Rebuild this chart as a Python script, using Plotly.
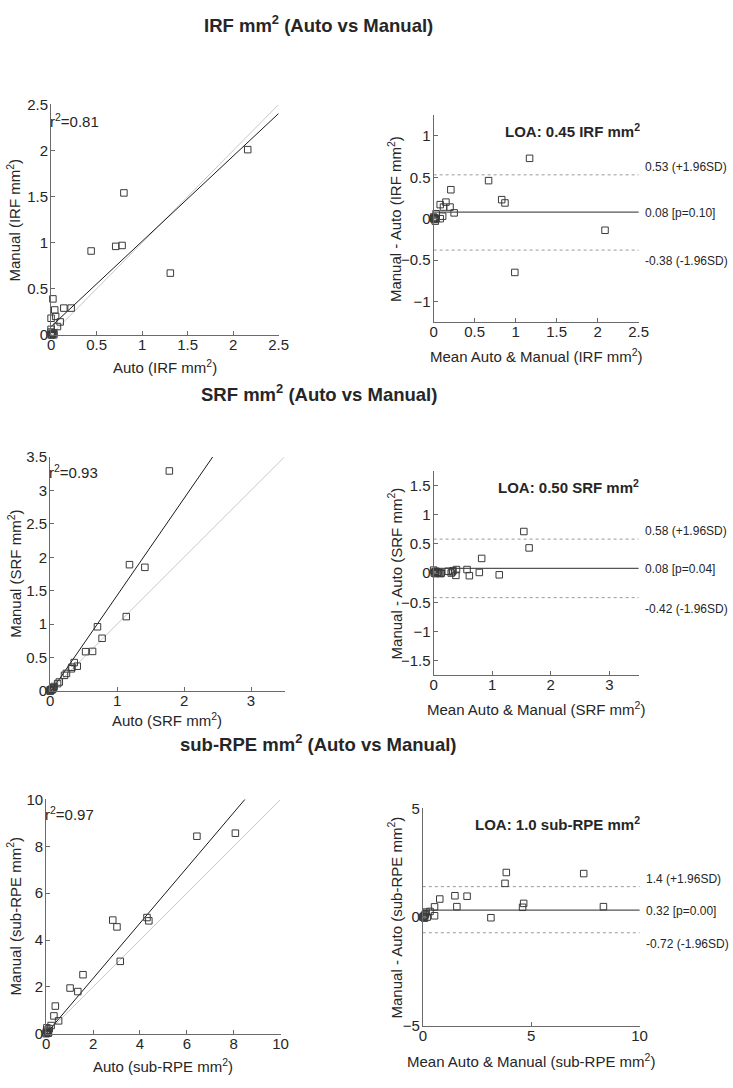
import plotly.graph_objects as go

W, H = 733, 1088
FONT = "Liberation Sans, Arial, sans-serif"
TXT = "#262626"
AXC = "#6a6a6a"

# ---------------- data ----------------
# IRF: Auto vs Manual scatter
irf_auto = [2.16, 0.80, 0.44, 0.71, 0.78, 1.31, 0.02, 0.04, 0.00, 0.05, 0.14, 0.22, 0.10, 0.07, 0.00, 0.03,
            0.00, 0.01, 0.02, 0.00, 0.01, 0.03]
irf_manual = [2.01, 1.54, 0.91, 0.96, 0.97, 0.67, 0.39, 0.27, 0.18, 0.20, 0.29, 0.29, 0.14, 0.09, 0.06, 0.02,
              0.00, 0.01, 0.02, 0.03, 0.00, 0.00]
irf_fit = [0.925, 0.09]          # slope, intercept
irf_r2 = "0.81"
# IRF Bland-Altman
irf_ba_mean = [1.17, 0.67, 0.83, 0.87, 2.09, 0.99, 0.21, 0.15, 0.08, 0.12, 0.20, 0.25, 0.11, 0.08, 0.03, 0.02,
               0.00, 0.01, 0.02, 0.00, 0.01, 0.03]
irf_ba_diff = [0.73, 0.46, 0.23, 0.19, -0.14, -0.65, 0.35, 0.20, 0.17, 0.14, 0.14, 0.07, 0.03, 0.00, 0.06, -0.03,
               0.00, 0.01, 0.00, 0.02, -0.01, 0.00]
irf_loa = [0.53, 0.08, -0.38]
irf_loa_labels = ["0.53 (+1.96SD)", "0.08 [p=0.10]", "-0.38 (-1.96SD)"]
irf_loa_title = "LOA: 0.45 IRF mm<sup>2</sup>"

# SRF
srf_auto = [1.78, 1.185, 1.415, 1.137, 0.707, 0.776, 0.53, 0.634, 0.36, 0.405, 0.327, 0.317, 0.244, 0.215,
            0.137, 0.112, 0.06, 0.04, 0.02, 0.01, 0.00, 0.03, 0.05, 0.00]
srf_manual = [3.29, 1.89, 1.85, 1.114, 0.962, 0.79, 0.59, 0.594, 0.427, 0.373, 0.358, 0.334, 0.265, 0.236,
              0.137, 0.113, 0.07, 0.05, 0.03, 0.01, 0.00, 0.02, 0.04, 0.02]
srf_fit = [1.45, -0.02]
srf_r2 = "0.93"
srf_ba_mean = [1.54, 1.63, 0.82, 0.57, 0.61, 0.78, 1.12, 0.39, 0.38, 0.32, 0.25, 0.13, 0.10, 0.06, 0.04, 0.02,
               0.01, 0.00, 0.03, 0.08, 0.12, 0.30, 0.33]
srf_ba_diff = [0.71, 0.43, 0.25, 0.06, -0.045, 0.01, -0.03, 0.06, -0.04, 0.02, 0.03, 0.00, 0.00, 0.01, 0.03,
               0.02, 0.00, 0.05, -0.01, 0.01, -0.01, 0.00, 0.04]
srf_loa = [0.58, 0.08, -0.42]
srf_loa_labels = ["0.58 (+1.96SD)", "0.08 [p=0.04]", "-0.42 (-1.96SD)"]
srf_loa_title = "LOA: 0.50 SRF mm<sup>2</sup>"

# sub-RPE
rpe_auto = [6.43, 8.07, 2.84, 3.02, 4.30, 4.38, 3.16, 1.57, 1.02, 1.35, 0.39, 0.33, 0.53, 0.21, 0.13, 0.03,
            0.00, 0.05, 0.10, 0.02, 0.08, 0.00]
rpe_manual = [8.43, 8.56, 4.85, 4.56, 4.96, 4.82, 3.09, 2.52, 1.95, 1.80, 1.18, 0.76, 0.55, 0.35, 0.22, 0.25,
              0.00, 0.10, 0.05, 0.15, 0.02, 0.05]
rpe_fit = [1.18, 0.0]
rpe_r2 = "0.97"
rpe_ba_mean = [3.85, 3.79, 7.42, 8.33, 4.65, 4.60, 3.14, 2.04, 1.48, 1.57, 0.78, 0.54, 0.54, 0.33, 0.15, 0.20,
               0.05, 0.10, 0.00, 0.08, 0.12, 0.03]
rpe_ba_diff = [2.05, 1.55, 2.00, 0.48, 0.63, 0.45, -0.03, 0.96, 0.98, 0.48, 0.83, 0.47, 0.06, 0.26, 0.23, 0.00,
               0.05, 0.10, 0.00, -0.05, 0.15, 0.02]
rpe_loa = [1.4, 0.32, -0.72]
rpe_loa_labels = ["1.4 (+1.96SD)", "0.32 [p=0.00]", "-0.72 (-1.96SD)"]
rpe_loa_title = "LOA: 1.0 sub-RPE mm<sup>2</sup>"

row_titles = ["<b>IRF mm<sup>2</sup> (Auto vs Manual)</b>",
              "<b>SRF mm<sup>2</sup> (Auto vs Manual)</b>",
              "<b>sub-RPE mm<sup>2</sup> (Auto vs Manual)</b>"]
units = ["IRF mm<sup>2</sup>", "SRF mm<sup>2</sup>", "sub-RPE mm<sup>2</sup>"]

# ---------------- layout geometry (px) ----------------
# scatter panels: (x0, x1, ytop, ybot)
sc_boxes = [(48, 280, 97, 331), (47, 286, 455, 693), (43, 282, 803, 1041)]
ba_boxes = [(438, 647, 108, 318), (438, 647, 469, 677), (427, 648, 812, 1033)]
sc_ranges = [[0, 2.5], [0, 3.5], [0, 10]]
sc_dtick = [0.5, 0.5, 2]
sc_xdtick = [0.5, 1, 2]
ba_xranges = [[0, 2.5], [0, 3.5], [0, 10]]
ba_yranges = [[-1.25, 1.25], [-1.75, 1.75], [-5, 5]]
ba_xdtick = [0.5, 1, 5]
ba_ydtick = [0.5, 0.5, 5]
title_y = [15, 390, 746]
sc_xtitle_y = [363, 722, 1073]
ba_xtitle_y = [352, 711, 1068]
r2_y = [113, 470, 817]
loa_title_pos = [(580, 123), (576, 485), (564, 827)]

scatter_sets = [(irf_auto, irf_manual, irf_fit, irf_r2),
                (srf_auto, srf_manual, srf_fit, srf_r2),
                (rpe_auto, rpe_manual, rpe_fit, rpe_r2)]
ba_sets = [(irf_ba_mean, irf_ba_diff, irf_loa, irf_loa_labels, irf_loa_title),
           (srf_ba_mean, srf_ba_diff, srf_loa, srf_loa_labels, srf_loa_title),
           (rpe_ba_mean, rpe_ba_diff, rpe_loa, rpe_loa_labels, rpe_loa_title)]


def px_x(p):
    return p / W


def px_y(p):
    return 1 - p / H


fig = go.Figure()
layout = dict(width=W, height=H, margin=dict(l=0, r=0, t=0, b=0),
              paper_bgcolor="white", plot_bgcolor="white", showlegend=False,
              font=dict(family=FONT, size=15, color=TXT))
annotations = []
shapes = []

axis_common = dict(showline=True, linecolor=AXC, linewidth=1, ticks="inside", ticklen=4,
                   tickcolor=AXC, showgrid=False, zeroline=False, mirror=False,
                   tickfont=dict(family=FONT, size=15, color=TXT))

marker_style = dict(symbol="square-open", size=6.5, color="#3a3a3a", line=dict(width=1, color="#3a3a3a"))

for i in range(3):
    # ---------- scatter panel ----------
    n = 2 * i + 1
    xa = "x" if n == 1 else f"x{n}"
    ya = "y" if n == 1 else f"y{n}"
    xk = "xaxis" if n == 1 else f"xaxis{n}"
    yk = "yaxis" if n == 1 else f"yaxis{n}"
    x0, x1, yt, yb = sc_boxes[i]
    auto, manual, fit, r2 = scatter_sets[i]
    rng = sc_ranges[i]
    layout[xk] = dict(axis_common, domain=[px_x(x0), px_x(x1)], range=rng, dtick=sc_xdtick[i], tick0=0,
                      anchor=ya, ticklabelstandoff=-4)
    layout[yk] = dict(axis_common, domain=[px_y(yb), px_y(yt)], range=rng, dtick=sc_dtick[i], tick0=0,
                      anchor=xa, ticklabelstandoff=-1)
    # identity line
    fig.add_trace(go.Scatter(x=rng, y=rng, mode="lines", line=dict(color="#c8c8c8", width=1),
                             xaxis=xa, yaxis=ya, hoverinfo="skip"))
    # regression line
    fig.add_trace(go.Scatter(x=rng, y=[fit[1] + fit[0] * v for v in rng], mode="lines",
                             line=dict(color="#1a1a1a", width=1), xaxis=xa, yaxis=ya, hoverinfo="skip"))
    fig.add_trace(go.Scatter(x=auto, y=manual, mode="markers", marker=marker_style, cliponaxis=False,
                             xaxis=xa, yaxis=ya))
    annotations.append(dict(text=f"r<sup>2</sup>={r2}", xref="paper", yref="paper",
                            x=px_x(x0 - 3.5), y=px_y(r2_y[i]), xanchor="left", yanchor="middle",
                            showarrow=False, font=dict(size=15, color=TXT)))
    annotations.append(dict(text=f"Auto ({units[i]})", xref="paper", yref="paper",
                            x=px_x((x0 + x1) / 2), y=px_y(sc_xtitle_y[i]), xanchor="center",
                            yanchor="middle", showarrow=False, font=dict(size=15, color=TXT)))
    annotations.append(dict(text=f"Manual ({units[i]})", xref="paper", yref="paper",
                            x=px_x(10), y=px_y((yt + yb) / 2), xanchor="center", yanchor="middle",
                            textangle=-90, showarrow=False, font=dict(size=15, color=TXT)))

    # ---------- Bland-Altman panel ----------
    n = 2 * i + 2
    xa, ya = f"x{n}", f"y{n}"
    xk, yk = f"xaxis{n}", f"yaxis{n}"
    x0, x1, yt, yb = ba_boxes[i]
    mean, diff, loa, loa_labels, loa_title = ba_sets[i]
    layout[xk] = dict(axis_common, domain=[px_x(x0), px_x(x1)], range=ba_xranges[i], dtick=ba_xdtick[i],
                      tick0=0, anchor=ya, ticklabelstandoff=-4)
    layout[yk] = dict(axis_common, domain=[px_y(yb), px_y(yt)], range=ba_yranges[i], dtick=ba_ydtick[i],
                      tick0=0, anchor=xa, ticklabelstandoff=-1)
    for j, val in enumerate(loa):
        if j == 1:
            ln = dict(color="#555555", width=1.2, dash="solid")
        else:
            ln = dict(color="#9a9a9a", width=1, dash="dot")
        shapes.append(dict(type="line", xref=f"{xa} domain", yref=ya, x0=0, x1=1, y0=val, y1=val,
                           line=ln, layer="below"))
        if j == 0:
            yanchor, ysh = "bottom", -1
        elif j == 1:
            yanchor, ysh = "middle", -1
        else:
            yanchor, ysh = "top", -2
        annotations.append(dict(text=loa_labels[j], xref=f"{xa} domain", yref=ya, x=1, y=val,
                                xanchor="left", yanchor=yanchor, xshift=4, yshift=ysh, showarrow=False,
                                font=dict(size=12, color=TXT)))
    fig.add_trace(go.Scatter(x=mean, y=diff, mode="markers", marker=marker_style, cliponaxis=False,
                             xaxis=xa, yaxis=ya))
    annotations.append(dict(text=f"<b>{loa_title}</b>", xref="paper", yref="paper",
                            x=px_x(loa_title_pos[i][0]), y=px_y(loa_title_pos[i][1]), xanchor="center",
                            yanchor="middle", showarrow=False, font=dict(size=15, color=TXT)))
    annotations.append(dict(text=f"Mean Auto &amp; Manual ({units[i]})", xref="paper", yref="paper",
                            x=px_x((x0 + x1) / 2), y=px_y(ba_xtitle_y[i]), xanchor="center",
                            yanchor="middle", showarrow=False, font=dict(size=15, color=TXT)))
    annotations.append(dict(text=f"Manual - Auto ({units[i]})", xref="paper", yref="paper",
                            x=px_x(398), y=px_y((yt + yb) / 2), xanchor="center", yanchor="middle",
                            textangle=-90, showarrow=False, font=dict(size=15, color=TXT)))

    # row title
    annotations.append(dict(text=row_titles[i], xref="paper", yref="paper", x=px_x(321),
                            y=px_y(title_y[i]), xanchor="center", yanchor="middle", showarrow=False,
                            font=dict(size=18.5, color=TXT)))

layout["annotations"] = annotations
layout["shapes"] = shapes
fig.update_layout(**layout)
fig.write_html("out.html", config={"displayModeBar": False},
               post_script="document.body.style.margin='0';document.body.style.overflow='hidden';")
